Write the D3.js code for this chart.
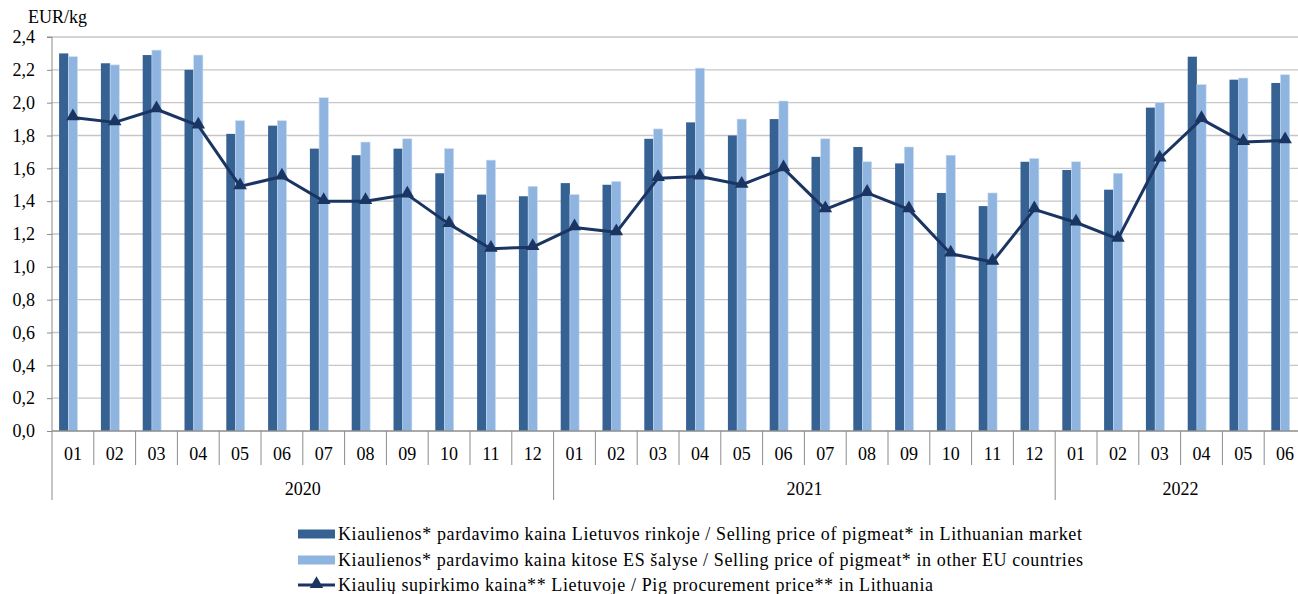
<!DOCTYPE html>
<html>
<head>
<meta charset="utf-8">
<script src="https://cdn.jsdelivr.net/npm/d3@7"></script>
</head>
<body style="margin:0; background:#fff">
<svg width="1298" height="594" id="mainsvg" font-family="Liberation Serif"></svg>
<script>
const years = ['2020', '2021', '2022'];
const months = ['01','02','03','04','05','06','07','08','09','10','11','12',
                '01','02','03','04','05','06','07','08','09','10','11','12',
                '01','02','03','04','05','06'];
const monthYears = [0,0,0,0,0,0,0,0,0,0,0,0, 1,1,1,1,1,1,1,1,1,1,1,1, 2,2,2,2,2,2];

// Kiaulienos pardavimo kaina Lietuvos rinkoje
const ltMarket = [2.30, 2.24, 2.29, 2.20, 1.81, 1.86, 1.72, 1.68, 1.72, 1.57, 1.44, 1.43,
                  1.51, 1.50, 1.78, 1.88, 1.80, 1.90, 1.67, 1.73, 1.63, 1.45, 1.37, 1.64,
                  1.59, 1.47, 1.97, 2.28, 2.14, 2.12];
// Kiaulienos pardavimo kaina kitose ES šalyse
const euMarket = [2.28, 2.23, 2.32, 2.29, 1.89, 1.89, 2.03, 1.76, 1.78, 1.72, 1.65, 1.49,
                  1.44, 1.52, 1.84, 2.21, 1.90, 2.01, 1.78, 1.64, 1.73, 1.68, 1.45, 1.66,
                  1.64, 1.57, 2.00, 2.11, 2.15, 2.17];
// Kiaulių supirkimo kaina Lietuvoje
const procurement = [1.91, 1.88, 1.96, 1.86, 1.49, 1.55, 1.40, 1.40, 1.44, 1.26, 1.11, 1.12,
                     1.24, 1.21, 1.54, 1.55, 1.50, 1.60, 1.35, 1.45, 1.35, 1.08, 1.03, 1.35,
                     1.27, 1.17, 1.66, 1.90, 1.76, 1.77];
const yTicks = [0, 0.2, 0.4, 0.6, 0.8, 1.0, 1.2, 1.4, 1.6, 1.8, 2.0, 2.2, 2.4];
const legendLabels = [
  'Kiaulienos* pardavimo kaina Lietuvos rinkoje / Selling price of pigmeat* in Lithuanian market',
  'Kiaulienos* pardavimo kaina kitose ES šalyse / Selling price of pigmeat* in other EU countries',
  'Kiaulių supirkimo kaina** Lietuvoje / Pig procurement price** in Lithuania'
];

const svg = d3.select('svg');
const width = +svg.attr('width');
const plotLeft = 52, plotRight = 1306, plotTop = 37, plotBottom = 431;
const font = 'Liberation Serif';
const darkBlue = '#366193', lightBlue = '#8FB4E0', lineBlue = '#1B3563', gridGray = '#C6C6C6', axisGray = '#8C8C8C';

const idx = d3.range(months.length);
const x = d3.scaleBand().domain(idx).range([plotLeft, plotRight]).paddingInner(0.34).paddingOuter(0.17);
const step = x.step();
const xSub = d3.scaleBand().domain([0, 1, 2]).range([0, x.bandwidth()]);
const y = d3.scaleLinear().domain([0, 2.4]).range([plotBottom, plotTop]);
const bound = i => x(i) - step * x.paddingInner() / 2; // left edge of category i

// gridlines
svg.append('g').selectAll('line').data(yTicks.filter(d => d > 0)).join('line')
  .attr('x1', plotLeft).attr('x2', width)
  .attr('y1', d => y(d)).attr('y2', d => y(d))
  .attr('stroke', gridGray).attr('stroke-width', 1.3);

// bars
const bars = svg.append('g');
bars.selectAll('rect.lt').data(ltMarket).join('rect').attr('class', 'lt')
  .attr('x', (d, i) => x(i) + xSub(0))
  .attr('y', d => y(d))
  .attr('width', xSub.bandwidth())
  .attr('height', d => y(0) - y(d))
  .attr('fill', darkBlue);
bars.selectAll('rect.eu').data(euMarket).join('rect').attr('class', 'eu')
  .attr('x', (d, i) => x(i) + xSub(1))
  .attr('y', d => y(d))
  .attr('width', xSub.bandwidth())
  .attr('height', d => y(0) - y(d))
  .attr('fill', lightBlue)
  .attr('stroke', '#C9DCF2').attr('stroke-width', 0.6);

// y axis
const yAxis = d3.axisLeft(y).tickValues(yTicks).tickSize(5).tickPadding(12)
  .tickFormat(d => d3.format('.1f')(d).replace('.', ','));
const ya = svg.append('g').attr('transform', `translate(${plotLeft},0)`).call(yAxis)
  .attr('font-family', font).attr('font-size', 18);
ya.select('.domain').attr('stroke', axisGray).attr('d', `M-5,${plotTop}H0V${plotBottom + 69}`);
ya.selectAll('.tick line').attr('stroke', axisGray);
ya.selectAll('text').attr('fill', '#000');

// x axis (months + years)
const xa = svg.append('g').attr('font-family', font).attr('font-size', 18);
xa.append('line').attr('x1', plotLeft).attr('x2', width).attr('y1', plotBottom).attr('y2', plotBottom)
  .attr('stroke', axisGray).attr('stroke-width', 1.3);
xa.selectAll('line.mt').data(d3.range(1, months.length)).join('line').attr('class', 'mt')
  .attr('x1', d => bound(d)).attr('x2', d => bound(d))
  .attr('y1', plotBottom)
  .attr('y2', d => (d === 12 || d === 24) ? plotBottom + 69 : plotBottom + 34)
  .attr('stroke', axisGray);
xa.selectAll('text.m').data(months).join('text').attr('class', 'm')
  .attr('x', (d, i) => x(i) + x.bandwidth() / 2)
  .attr('y', 460)
  .attr('text-anchor', 'middle')
  .text(d => d);
const yearIdx = years.map((yr, k) => idx.filter(i => monthYears[i] === k));
xa.selectAll('text.yr').data(years).join('text').attr('class', 'yr')
  .attr('x', (d, k) => {
    const ids = yearIdx[k];
    return (bound(ids[0]) + bound(ids[ids.length - 1]) + step) / 2;
  })
  .attr('y', 495)
  .attr('text-anchor', 'middle')
  .text(d => d);

// line
const cx = i => x(i) + x.bandwidth() / 2;
const line = d3.line().x((d, i) => cx(i)).y(d => y(d));
svg.append('path').datum(procurement)
  .attr('d', line).attr('fill', 'none')
  .attr('stroke', lineBlue).attr('stroke-width', 3).attr('stroke-linejoin', 'round');
const tri = d3.symbol().type(d3.symbolTriangle).size(80);
svg.append('g').selectAll('path').data(procurement).join('path')
  .attr('d', tri)
  .attr('transform', (d, i) => `translate(${cx(i)},${y(d) - 1})`)
  .attr('fill', lineBlue);

// unit label
svg.append('text').attr('x', 28).attr('y', 23).attr('font-size', 18).text('EUR/kg');

// legend
const lg = svg.append('g').attr('transform', 'translate(298,0)').attr('font-size', 18);
const rowsY = [534, 560, 585];
lg.append('rect').attr('x', 0).attr('y', rowsY[0] - 4.5).attr('width', 37).attr('height', 9).attr('fill', darkBlue);
lg.append('rect').attr('x', 0).attr('y', rowsY[1] - 4.5).attr('width', 37).attr('height', 9).attr('fill', lightBlue);
lg.append('line').attr('x1', 0).attr('x2', 37).attr('y1', rowsY[2]).attr('y2', rowsY[2])
  .attr('stroke', lineBlue).attr('stroke-width', 3);
lg.append('path').attr('d', tri).attr('transform', `translate(18.5,${rowsY[2] - 1})`).attr('fill', lineBlue);
lg.selectAll('text').data(legendLabels).join('text')
  .attr('x', 40).attr('y', (d, i) => rowsY[i] + 6)
  .attr('textLength', (d, i) => [744, 745, 595][i])
  .text(d => d);
</script>
</body>
</html>
